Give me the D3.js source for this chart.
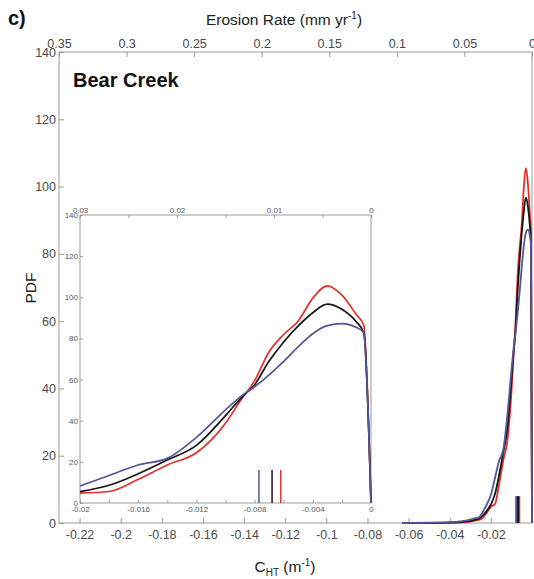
<!DOCTYPE html>
<html>
<head>
<meta charset="utf-8">
<script src="https://cdn.jsdelivr.net/npm/d3@7"></script>
<style>
  html, body { margin: 0; padding: 0; background: #fff; }
  svg { display: block; font-family: "Liberation Sans", Arial, sans-serif; }
</style>
</head>
<body>
<svg id="chart" width="534" height="579"></svg>
<script>
// Curvature grid (C_HT, m^-1) and PDF values of the three estimates
const cht = [-0.063, -0.05, -0.04, -0.035, -0.03, -0.028, -0.026, -0.024, -0.022, -0.020,
             -0.018, -0.016, -0.014, -0.012, -0.010, -0.009, -0.008, -0.007, -0.006, -0.005,
             -0.004, -0.003, -0.002, -0.001, -0.0005, 0];
const pdfRed   = [0, 0, 0.05, 0.15, 0.4, 0.7, 0.9, 1.5, 3.0, 4.8,
                  5.6, 11.5, 18.5, 24.4, 38.8, 49.5, 59.5, 73.5, 81.9, 88.5,
                  99.6, 105.5, 101, 91.5, 86.5, 0];
const pdfBlack = [0, 0.05, 0.15, 0.3, 0.6, 0.9, 1.2, 2.2, 3.6, 5.5,
                  8.6, 14.2, 20.9, 28, 42.5, 50.5, 57.5, 69, 78.3, 86.1,
                  92.5, 96.7, 94.2, 88, 82.8, 0];
const pdfBlue  = [0, 0.1, 0.2, 0.5, 1.0, 1.4, 1.6, 3.2, 5.5, 8.3,
                  13.4, 18.5, 21.7, 31.9, 45.3, 51.5, 56.5, 62.3, 68.8, 76,
                  82.3, 86.2, 87.2, 85.3, 82.8, 0];
const seriesNames = ["red", "black", "blue"];
// Median curvature of each estimate (short vertical markers)
const medians = [-0.0062, -0.0068, -0.0077];
const markerHeightMain = 8;
const markerHeightInset = 16;

// Axis tick values
const mainBottomTicks = [-0.22, -0.2, -0.18, -0.16, -0.14, -0.12, -0.1, -0.08, -0.06, -0.04, -0.02];
const mainTopTicks = [0.35, 0.3, 0.25, 0.2, 0.15, 0.1, 0.05, 0];
const mainYTicks = [0, 20, 40, 60, 80, 100, 120, 140];
const insetBottomTicks = [-0.02, -0.018, -0.016, -0.014, -0.012, -0.01, -0.008, -0.006, -0.004, -0.002, 0];
const insetBottomLabels = [-0.02, -0.016, -0.012, -0.008, -0.004, 0];
const insetTopTicks = [0.03, 0.025, 0.02, 0.015, 0.01, 0.005, 0];
const insetTopLabels = [0.03, 0.02, 0.01, 0];
const insetYTicks = [0, 20, 40, 60, 80, 100, 120, 140];

const colors = { red: "#e3302d", black: "#151515", blue: "#555599" };
const frameColor = "#9a9a9a";
const tickTextColor = "#4a4a4a";

const svg = d3.select("#chart");
const series = seriesNames.map((name, i) => ({
  name,
  values: cht.map((c, j) => ({ c, v: [pdfRed, pdfBlack, pdfBlue][i][j] })),
  median: medians[i]
}));

// ---------- main panel ----------
const M = { left: 59, right: 532, top: 52, bottom: 523 };
const x = d3.scaleLinear().domain([-0.23, 0]).range([M.left, M.right]);
const xTop = d3.scaleLinear().domain([0.35, 0]).range([M.left, M.right]);
const y = d3.scaleLinear().domain([0, 140]).range([M.bottom, M.top]);

const fmt = d => d === 0 ? "0" : String(d);

function styleAxis(g, size, color) {
  g.select(".domain").remove();
  g.selectAll(".tick line").attr("stroke", frameColor);
  g.selectAll(".tick text").attr("fill", color).attr("font-size", size);
}

svg.append("g")
  .attr("transform", `translate(0,${M.bottom})`)
  .call(d3.axisBottom(x).tickValues(mainBottomTicks).tickSize(-5).tickPadding(7).tickFormat(fmt))
  .call(g => styleAxis(g, 12.5, tickTextColor));

svg.append("g")
  .attr("transform", `translate(0,${M.top})`)
  .call(d3.axisTop(xTop).tickValues(mainTopTicks).tickSize(-5).tickPadding(4).tickFormat(fmt))
  .call(g => styleAxis(g, 12.5, tickTextColor));

svg.append("g")
  .attr("transform", `translate(${M.left},0)`)
  .call(d3.axisLeft(y).tickValues(mainYTicks).tickSize(-5).tickPadding(3))
  .call(g => styleAxis(g, 12.5, tickTextColor));

svg.append("rect")
  .attr("x", M.left).attr("y", M.top)
  .attr("width", M.right - M.left).attr("height", M.bottom - M.top)
  .attr("fill", "none").attr("stroke", frameColor).attr("stroke-width", 1);

const lineMain = d3.line().x(d => x(d.c)).y(d => y(d.v)).curve(d3.curveMonotoneX);
svg.append("g").selectAll("path").data(series).join("path")
  .attr("d", d => lineMain(d.values))
  .attr("fill", "none")
  .attr("stroke", d => colors[d.name])
  .attr("stroke-width", 1.8);

svg.append("g").selectAll("line").data(series).join("line")
  .attr("x1", d => x(d.median)).attr("x2", d => x(d.median))
  .attr("y1", y(0)).attr("y2", y(markerHeightMain))
  .attr("stroke", d => colors[d.name])
  .attr("stroke-width", 2);

// ---------- inset panel ----------
const I = { left: 80, right: 371, top: 215, bottom: 503 };
const xi = d3.scaleLinear().domain([-0.02, 0]).range([I.left, I.right]);
const xiTop = d3.scaleLinear().domain([0.03, 0]).range([I.left, I.right]);
const yi = d3.scaleLinear().domain([0, 140]).range([I.bottom, I.top]);

svg.append("rect")
  .attr("x", I.left).attr("y", I.top)
  .attr("width", I.right - I.left).attr("height", I.bottom - I.top)
  .attr("fill", "#fff").attr("stroke", frameColor).attr("stroke-width", 1);

const labelIf = list => d => list.some(v => Math.abs(v - d) < 1e-9) ? fmt(d) : "";

svg.append("g")
  .attr("transform", `translate(0,${I.bottom})`)
  .call(d3.axisBottom(xi).tickValues(insetBottomTicks).tickSize(-3).tickPadding(3)
        .tickFormat(labelIf(insetBottomLabels)))
  .call(g => styleAxis(g, 8, "#555"));

svg.append("g")
  .attr("transform", `translate(0,${I.top})`)
  .call(d3.axisTop(xiTop).tickValues(insetTopTicks).tickSize(-3).tickPadding(2)
        .tickFormat(labelIf(insetTopLabels)))
  .call(g => styleAxis(g, 8, "#555"));

svg.append("g")
  .attr("transform", `translate(${I.left},0)`)
  .call(d3.axisLeft(yi).tickValues(insetYTicks).tickSize(-3).tickPadding(2))
  .call(g => styleAxis(g, 8, "#555"));

const lineInset = d3.line().x(d => xi(d.c)).y(d => yi(d.v)).curve(d3.curveMonotoneX);
svg.append("g").selectAll("path").data(series).join("path")
  .attr("d", d => lineInset(d.values.filter(p => p.c >= -0.02)))
  .attr("fill", "none")
  .attr("stroke", d => colors[d.name])
  .attr("stroke-width", 1.7);

svg.append("g").selectAll("line").data(series).join("line")
  .attr("x1", d => xi(d.median)).attr("x2", d => xi(d.median))
  .attr("y1", yi(0)).attr("y2", yi(markerHeightInset))
  .attr("stroke", d => colors[d.name])
  .attr("stroke-width", 1.5);

// ---------- titles ----------
svg.append("text").attr("x", 8).attr("y", 25)
  .attr("font-size", 20).attr("font-weight", "bold").attr("fill", "#111").text("c)");

svg.append("text").attr("x", 73).attr("y", 87)
  .attr("font-size", 20).attr("font-weight", "bold").attr("fill", "#111").text("Bear Creek");

const topTitle = svg.append("text").attr("x", 284).attr("y", 25)
  .attr("text-anchor", "middle").attr("font-size", 15.5).attr("fill", "#222");
topTitle.append("tspan").text("Erosion Rate (mm yr");
topTitle.append("tspan").attr("font-size", 10).attr("dy", -6).text("-1");
topTitle.append("tspan").attr("dy", 6).text(")");

const bottomTitle = svg.append("text").attr("x", 285).attr("y", 572)
  .attr("text-anchor", "middle").attr("font-size", 15.5).attr("fill", "#222");
bottomTitle.append("tspan").text("C");
bottomTitle.append("tspan").attr("font-size", 10).attr("dy", 4).text("HT");
bottomTitle.append("tspan").attr("dy", -4).text(" (m");
bottomTitle.append("tspan").attr("font-size", 10).attr("dy", -6).text("-1");
bottomTitle.append("tspan").attr("dy", 6).text(")");

svg.append("text")
  .attr("transform", "translate(36,288) rotate(-90)")
  .attr("text-anchor", "middle").attr("font-size", 15.5).attr("fill", "#222").text("PDF");
</script>
</body>
</html>
